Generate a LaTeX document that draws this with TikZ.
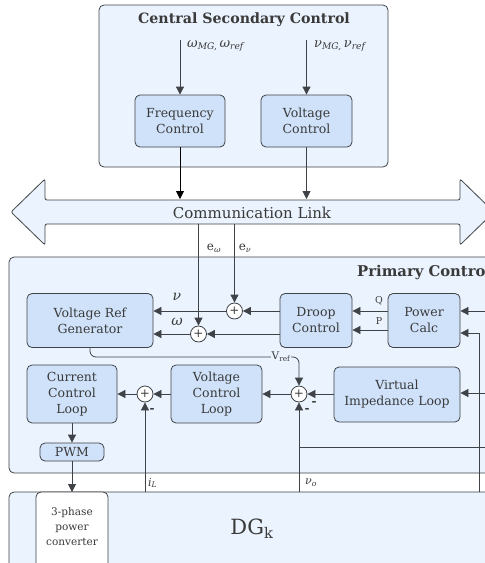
\documentclass[tikz,border=0pt]{standalone}
\usepackage{fontspec}
\setmainfont{DejaVu Serif}
\usetikzlibrary{arrows.meta}
\definecolor{linec}{HTML}{3F4347}
\definecolor{panel}{HTML}{EBF3FE}
\definecolor{blk}{HTML}{CFE2FA}
\definecolor{txt}{HTML}{3A3A3A}
\newcommand{\myit}[1]{\textit{#1}}
\newcommand{\mysub}[1]{\textsubscript{#1}}
\tikzset{
 panelbox/.style={draw=linec, line width=0.8pt, fill=panel, rounded corners=5pt},
 block/.style={draw=linec, line width=0.8pt, fill=blk, rounded corners=5pt, align=center, text=txt, font=\fontsize{12.5}{16}\selectfont, inner sep=0pt},
 sumc/.style={circle, draw=linec, line width=0.8pt, fill=white, minimum size=16pt, inner sep=0pt, text=txt, font=\fontsize{12}{12}\selectfont},
 conn/.style={draw=linec, line width=0.8pt},
 arr/.style={conn, -{Triangle[length=8pt,width=8pt]}},
 lbl/.style={text=txt, inner sep=0pt},
 minus/.style={text=txt, inner sep=0pt, font=\fontsize{12}{12}\selectfont\bfseries},
}
\begin{document}
\begin{tikzpicture}[x=1pt,y=-1pt]
\clip (0,0) rectangle (485,563);
\fill[white] (0,0) rectangle (485,563);

% panels
\draw[panelbox] (99,5) rectangle (388,167);
\node[lbl, font=\fontsize{14.2}{14.2}\selectfont\bfseries] (sectitle) at (244,20) {Central Secondary Control};
\draw[panelbox] (9,257) rectangle (500,473);
\node[lbl, anchor=west, font=\fontsize{14.8}{14.8}\selectfont\bfseries] (primtitle) at (357,273) {Primary Control};
\draw[panelbox] (9,492) rectangle (500,600);

% communication link
\draw[conn, fill=panel, rounded corners=2pt] (11,212) -- (45,179) -- (45,200) -- (460,200) -- (460,179) -- (494,212) -- (460,245) -- (460,224) -- (45,224) -- (45,245) -- cycle;
\node[lbl, font=\fontsize{15}{15}\selectfont] (comm) at (252,213) {Communication Link};

% secondary blocks
\node[block, minimum width=90pt, minimum height=52pt] (freq) at (180,121) {Frequency\\Control};
\node[block, minimum width=91pt, minimum height=52pt] (volt) at (306.5,121) {Voltage\\Control};
\coordinate (win) at (180,40);
\coordinate (vin) at (306.5,40);
\coordinate (wout) at (180,199);
\coordinate (vout) at (306.5,199);
\draw[arr] (win) -- (freq.north);
\draw[arr] (vin) -- (volt.north);
\draw[arr, draw=black] (freq.south) -- (wout);
\draw[arr] (volt.south) -- (vout);
\node[lbl, anchor=west, font=\fontsize{13}{13}\selectfont] (wlbl) at (187,46) {\myit{ω}\mysub{\myit{MG,}}\,\myit{ω}\mysub{\myit{ref}}};
\node[lbl, anchor=west, font=\fontsize{13}{13}\selectfont] (vlbl) at (314,46) {\myit{ν}\mysub{\myit{MG,}}\,\myit{ν}\mysub{\myit{ref}}};

% primary row 1
\node[block, minimum width=126pt, minimum height=54pt] (vrg) at (90,320.5) {Voltage Ref\\Generator};
\node[block, minimum width=72pt, minimum height=54pt] (droop) at (316,320.5) {Droop\\Control};
\node[block, minimum width=72pt, minimum height=54pt] (pcalc) at (424,320.5) {Power\\Calc};
\node[sumc] (sv) at (234.5,311) {+};
\node[sumc] (sw) at (198.5,334) {+};
\coordinate (ew) at (198.5,224);
\coordinate (ev) at (234.5,224);
\draw[arr] (ew) -- (sw.north);
\draw[arr] (ev) -- (sv.north);
\node[lbl, font=\fontsize{12}{12}\selectfont] (ewl) at (214,248) {e\mysub{\myit{ω}}};
\node[lbl, font=\fontsize{12}{12}\selectfont] (evl) at (245,248) {e\mysub{\myit{ν}}};
\draw[arr] (droop.west |- sv) -- (sv.east);
\draw[arr] (sv.west) -- (vrg.east |- sv);
\draw[arr] (droop.west |- sw) -- (sw.east);
\draw[arr] (sw.west) -- (vrg.east |- sw);
\node[lbl, font=\fontsize{14}{14}\selectfont] (vsym) at (177,297) {\myit{ν}};
\node[lbl, font=\fontsize{14}{14}\selectfont] (wsym) at (177,322) {\myit{ω}};
\draw[arr] (pcalc.west |- 0,311) -- (droop.east |- 0,311);
\draw[arr] (pcalc.west |- 0,330) -- (droop.east |- 0,330);
\node[lbl, font=\fontsize{9.5}{9.5}\selectfont] (qlbl) at (379,301) {Q};
\node[lbl, font=\fontsize{9.5}{9.5}\selectfont] (plbl) at (379,321) {P};
\coordinate (pin1) at (495,311);
\coordinate (fb1) at (479,492);
\draw[arr] (pin1) -- (pcalc.east |- 0,311);
\draw[arr] (fb1) -- (479,333) -- (pcalc.east |- 0,333);

% primary row 2
\node[block, minimum width=90pt, minimum height=58pt] (ccl) at (72,394) {Current\\Control\\Loop};
\node[block, minimum width=91pt, minimum height=58pt] (vcl) at (216.5,394) {Voltage\\Control\\Loop};
\node[block, minimum width=126pt, minimum height=55pt] (vil) at (397,394.5) {Virtual\\Impedance Loop};
\node[block, minimum width=64pt, minimum height=18pt] (pwm) at (72,452) {PWM};
\node[sumc] (sc) at (145,394) {+};
\node[sumc] (sV) at (299,394) {+};
\draw[arr, rounded corners=6pt] (vrg.south) |- (sV.north |- 0,357) -- (sV.north);
\node[lbl, fill=panel, inner sep=1pt, font=\fontsize{10.5}{10.5}\selectfont] (vref) at (281,357) {V\mysub{ref}};
\draw[arr] (sV.west) -- (vcl.east |- sV);
\draw[arr] (vil.west |- sV) -- (sV.east);
\draw[arr] (vcl.west |- sc) -- (sc.east);
\draw[arr] (sc.west) -- (ccl.east |- sc);
\draw[arr] (ccl.south) -- (pwm.north);
\coordinate (vilin) at (495,393);
\draw[arr] (vilin) -- (vil.east |- 0,393);
\node[minus] (m1) at (152,410) {-};
\node[minus] (m2) at (314,403) {-};
\node[minus] (m3) at (307,410) {-};

% feedback
\coordinate (iL) at (145,492);
\coordinate (vo) at (299,492);
\coordinate (vobr) at (495,447);
\draw[arr] (iL) -- (sc.south);
\draw[arr] (vo) -- (sV.south);
\draw[conn] (sV.south |- 0,447) -- (vobr);
\node[lbl, anchor=west, font=\fontsize{11}{11}\selectfont] (iLl) at (148,483) {\myit{i}\mysub{\myit{L}}};
\node[lbl, anchor=west, font=\fontsize{11}{11}\selectfont] (vol) at (305,483) {\myit{ν}\mysub{\myit{o}}};

% DG
\draw[conn, fill=white, rounded corners=5pt] (36,600) -- (36,492) -- (108,492) -- (108,600);
\node[lbl, align=center, font=\fontsize{10.5}{15}\selectfont] (conv) at (72,527) {3-phase\\power\\converter};
\coordinate (convtop) at (72,492);
\draw[arr] (pwm.south) -- (convtop);
\node[lbl, font=\fontsize{21}{21}\selectfont] (dg) at (252,529) {DG\mysub{k}};
\end{tikzpicture}
\end{document}
